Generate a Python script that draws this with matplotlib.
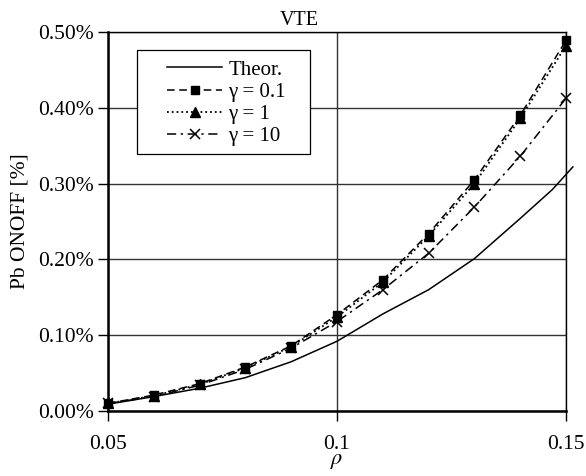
import matplotlib.pyplot as plt
from matplotlib.patches import Rectangle
from matplotlib.ticker import FuncFormatter, MultipleLocator

plt.rcParams['font.family'] = ['Liberation Serif', 'DejaVu Serif']
plt.rcParams['mathtext.fontset'] = 'stix'

# data (y in %)
rho = [0.05, 0.06, 0.07, 0.08, 0.09, 0.10, 0.11, 0.12, 0.13, 0.14, 0.15]
theor_rho = [0.05, 0.06, 0.07, 0.08, 0.09, 0.10, 0.11, 0.12, 0.13, 0.14, 0.147, 0.1515]
theor = [0.009, 0.019, 0.030, 0.044, 0.065, 0.092, 0.128, 0.160, 0.201, 0.254, 0.292, 0.322]
g01 = [0.010, 0.021, 0.036, 0.058, 0.086, 0.127, 0.173, 0.234, 0.305, 0.390, 0.489]
g1 = [0.010, 0.020, 0.035, 0.057, 0.085, 0.124, 0.170, 0.231, 0.300, 0.386, 0.482]
g10 = [0.010, 0.019, 0.034, 0.055, 0.083, 0.118, 0.160, 0.208, 0.269, 0.336, 0.4125]

W, H = 586, 476
fig = plt.figure(figsize=(W/100, H/100), dpi=100)
ax = fig.add_axes([108/W, 1-411/H, (566-108)/W, (411-32)/H])

ax.plot(theor_rho, theor, '-', color='black', lw=1.1, label='Theor.', clip_on=False, zorder=3)
ax.plot(rho, g01, '--', color='black', lw=1.1, marker='s', ms=6, dashes=(5, 3),
        label='γ = 0.1', clip_on=False, zorder=4)
ax.plot(rho, g1, ':', color='black', lw=1.3, marker='^', ms=6.5,
        label='γ = 1', clip_on=False, zorder=4)
ax.plot(rho, g10, '-.', color='black', lw=1.1, marker='x', ms=7, mew=1.1, dashes=(6, 3, 1.5, 3),
        label='γ = 10', clip_on=False, zorder=4)

ax.set_xlim(0.05, 0.15)
ax.set_ylim(0, 0.5)
ax.xaxis.set_major_locator(MultipleLocator(0.05))
ax.yaxis.set_major_locator(MultipleLocator(0.1))
ax.xaxis.set_major_formatter(FuncFormatter(lambda v, p: f"{v:g}"))
ax.yaxis.set_major_formatter(FuncFormatter(lambda v, p: f"{v:.2f}%"))
ax.grid(True, color='#333333', lw=1.0)
ax.set_axisbelow(True)

for s in ['left', 'bottom']:
    ax.spines[s].set_linewidth(1.8)
for s in ['top', 'right']:
    ax.spines[s].set_linewidth(1.0)

ax.tick_params(direction='out', length=7, width=1, labelsize=15.5, pad=3)
ax.tick_params(axis='x', pad=10)

ax.set_title('VTE', fontsize=14.5, pad=5, x=(299-108)/458)
ax.set_ylabel('Pb ONOFF [%]', fontsize=15.5, labelpad=6)
ax.set_xlabel(r'$\rho$', fontsize=16, labelpad=-1)

# legend frame drawn separately (wide side padding like the original)
frame = Rectangle(((137-108)/458, (411-154)/379), 173/458, 104/379, transform=ax.transAxes,
                  facecolor='white', edgecolor='black', lw=0.9, zorder=5)
ax.add_patch(frame)
leg = ax.legend(loc='upper left', bbox_to_anchor=((167-108)/458, 1-(60-32)/379), fontsize=15,
                numpoints=1, frameon=False, handlelength=2.65, handletextpad=0.3,
                labelspacing=0.13, borderpad=0, borderaxespad=0)
leg.set_zorder(6)

fig.savefig('out.png', dpi=100)
